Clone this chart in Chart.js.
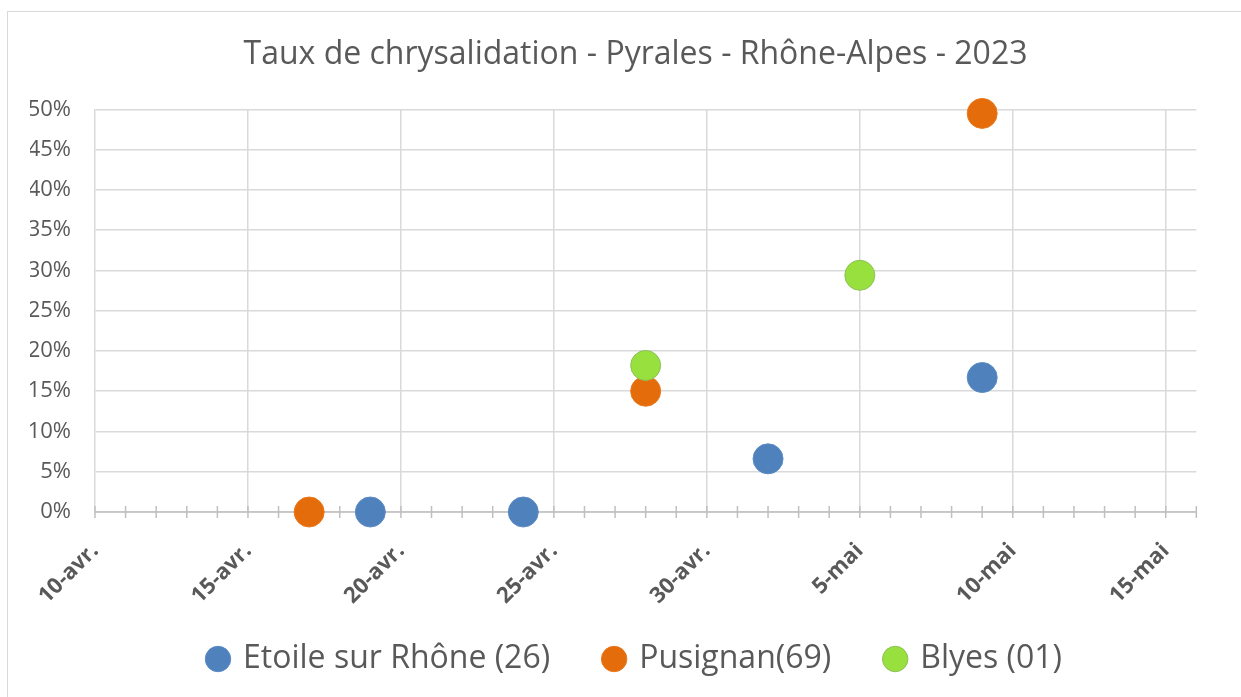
<!DOCTYPE html>
<html>
<head>
<meta charset="utf-8">
<script src="https://cdn.jsdelivr.net/npm/chart.js@4.4.0/dist/chart.umd.min.js"></script>
<style>
  body { margin: 0; background: #fff; overflow: hidden; }
  #frame { position: absolute; left: 7px; top: 11px; width: 1240px; height: 700px; border: 1px solid #d9d9d9; }
  #wrap { position: absolute; left: 0; top: 0; width: 1241px; height: 697px; }
</style>
</head>
<body>
<div id="frame"></div>
<div id="wrap"><canvas id="myChart"></canvas></div>
<script>
// axis range and labels
const startDate = '2023-04-10'
const endDate = '2023-05-16'
const monthNames = ['janv.', 'févr.', 'mars', 'avr.', 'mai', 'juin', 'juil.', 'août', 'sept.', 'oct.', 'nov.', 'déc.']
const yTicks = [0, 0.05, 0.10, 0.15, 0.20, 0.25, 0.30, 0.35, 0.40, 0.45, 0.50]

// series
const seriesNames = ['Etoile sur Rhône (26)', 'Pusignan(69)', 'Blyes (01)']
const etoileDates = ['2023-04-19', '2023-04-24', '2023-05-02', '2023-05-09']
const etoileValues = [0, 0, 0.066, 0.167]
const pusignanDates = ['2023-04-17', '2023-04-28', '2023-05-09']
const pusignanValues = [0, 0.15, 0.495]
const blyesDates = ['2023-04-28', '2023-05-05']
const blyesValues = [0.182, 0.294]

const DAY = 86400000
function dayOffset(d) {
    return Math.round((Date.parse(d) - Date.parse(startDate)) / DAY)
}
function toPoints(dates, values) {
    return dates.map((d, i) => ({ x: dayOffset(d), y: values[i] }))
}
function dayLabel(v) {
    let d = new Date(Date.parse(startDate) + v * DAY)
    return d.getUTCDate() + '-' + monthNames[d.getUTCMonth()]
}

const textColor = '#595959'
const gridColor = '#d9d9d9'
const font = "'Open Sans', sans-serif"

// small tick marks crossing the x axis line
const crossTicks = {
    id: 'crossTicks',
    beforeDatasetsDraw(chart) {
        const x = chart.scales.x
        const c = chart.ctx
        const bottom = chart.chartArea.bottom
        c.save()
        c.strokeStyle = '#bfbfbf'
        c.lineWidth = 1.5
        x.ticks.forEach(t => {
            let px = x.getPixelForValue(t.value)
            c.beginPath()
            c.moveTo(px, bottom - 6)
            c.lineTo(px, bottom + 6)
            c.stroke()
        })
        c.beginPath()
        c.moveTo(chart.chartArea.left, bottom)
        c.lineTo(chart.chartArea.right, bottom)
        c.stroke()
        c.restore()
    }
}

function makeDataset(label, dates, values, fill, border, order) {
    return {
        label: label,
        data: toPoints(dates, values),
        backgroundColor: fill,
        borderColor: border,
        borderWidth: 1,
        pointRadius: 15,
        pointHoverRadius: 15,
        clip: false,
        order: order
    }
}

const ctx = document.getElementById('myChart')
new Chart(ctx, {
    type: 'scatter',
    data: {
        datasets: [
            makeDataset(seriesNames[0], etoileDates, etoileValues, '#4f81bd', '#5b8ac4', 2),
            makeDataset(seriesNames[1], pusignanDates, pusignanValues, '#e46c0a', '#e8781c', 1),
            makeDataset(seriesNames[2], blyesDates, blyesValues, '#97e03e', '#8fc05a', 0)
        ]
    },
    plugins: [crossTicks],
    options: {
        responsive: true,
        maintainAspectRatio: false,
        animation: false,
        layout: { padding: { left: 30, right: 0, top: 0, bottom: 12 } },
        plugins: {
            tooltip: { enabled: false },
            title: {
                display: true,
                text: 'Taux de chrysalidation - Pyrales - Rhône-Alpes - 2023',
                color: textColor,
                font: { family: font, size: 32, weight: 'normal' },
                padding: { top: 36, bottom: 35 }
            },
            legend: {
                position: 'bottom',
                labels: {
                    color: textColor,
                    font: { family: font, size: 32 },
                    usePointStyle: true,
                    pointStyle: 'circle',
                    boxWidth: 18,
                    boxHeight: 18,
                    padding: 55,
                    sort: (a, b) => a.datasetIndex - b.datasetIndex
                }
            }
        },
        scales: {
            x: {
                type: 'linear',
                min: 0,
                max: dayOffset(endDate),
                afterFit: s => {
                    s.height = 76
                    // the rotated labels run past the axis box, don't cut them off
                    s._computeLabelArea = () => undefined
                },
                ticks: {
                    stepSize: 1,
                    autoSkip: false,
                    maxRotation: 45,
                    minRotation: 45,
                    padding: 26,
                    color: textColor,
                    font: { family: font, size: 22, weight: 'bold' },
                    callback: v => v % 5 === 0 ? dayLabel(v) : ''
                },
                grid: {
                    drawTicks: false,
                    lineWidth: 1.5,
                    color: c => (c.tick && c.tick.value % 5 === 0 && c.tick.value > 0 && c.tick.value < 36) ? gridColor : 'rgba(0,0,0,0)'
                },
                border: { display: false }
            },
            y: {
                min: 0,
                max: 0.5,
                afterFit: s => { s.width = 65 },
                afterBuildTicks: s => { s.ticks = yTicks.map(v => ({ value: v })) },
                ticks: {
                    padding: 24,
                    color: textColor,
                    font: { family: font, size: 22 },
                    callback: v => Math.round(v * 100) + '%'
                },
                grid: {
                    drawTicks: false,
                    lineWidth: 1.5,
                    color: gridColor
                },
                border: { display: true, color: gridColor, width: 1.5 }
            },
            // empty right-hand space, as in the original plot
            yRight: {
                axis: 'y',
                position: 'right',
                display: true,
                afterFit: s => { s.width = 43 },
                ticks: { display: false },
                grid: { display: false },
                border: { display: false }
            }
        }
    }
})
</script>
</body>
</html>
